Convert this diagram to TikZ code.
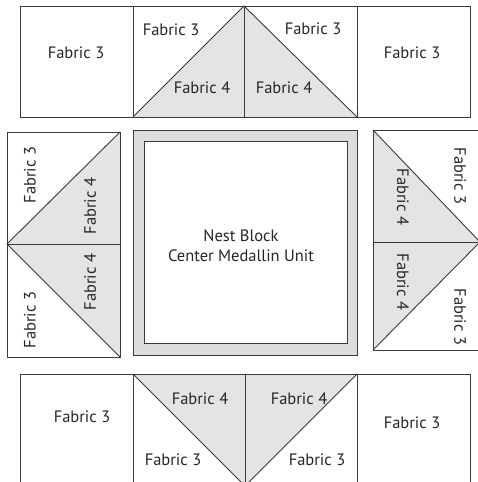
\documentclass[tikz,border=0pt]{standalone}
\usepackage{fontspec}
\setmainfont{PT Sans}
\definecolor{edge}{HTML}{3A3A3A}
\definecolor{fabfour}{HTML}{E4E4E5}
\definecolor{band}{HTML}{DCDDDE}
\tikzset{
  seam/.style={draw=edge, line width=0.9pt},
  lab/.style={font=\fontsize{16.5}{18}\selectfont, text=black!85, inner sep=0pt},
  labup/.style={lab, rotate=90},
  labdown/.style={lab, rotate=-90}
}
\begin{document}
\begin{tikzpicture}[x=1pt,y=-1pt]
\useasboundingbox (0,0) rectangle (478,482);
\begin{scope}
\clip (0,0) rectangle (478,482);
% ---------- top row ----------
\fill[fabfour] (133,117) -- (244,6) -- (357,117) -- cycle;
\draw[seam] (20,6) rectangle (470,117);
\draw[seam] (133,6) -- (133,117);
\draw[seam] (244,6) -- (244,117);
\draw[seam] (357,6) -- (357,117);
\draw[seam] (133,117) -- (244,6) -- (357,117);
% ---------- middle left ----------
\fill[fabfour] (120,132) -- (7,244) -- (120,357) -- cycle;
\draw[seam] (7,132) rectangle (120,357);
\draw[seam] (7,244) -- (120,244);
\draw[seam] (120,132) -- (7,244) -- (120,357);
% ---------- centre ----------
\draw[seam, fill=band] (133,130) rectangle (357,355);
\draw[seam, fill=white] (144,141) rectangle (347,343);
% ---------- middle right ----------
\fill[fabfour] (373,130) -- (480,242) -- (373,350) -- cycle;
\draw[seam] (484,130) -- (373,130) -- (373,350) -- (484,350);
\draw[seam] (373,242) -- (484,242);
\draw[seam] (373,130) -- (480,242) -- (373,350);
% ---------- bottom row ----------
\fill[fabfour] (133,374) -- (245,486) -- (357,374) -- cycle;
\draw[seam] (20,490) -- (20,374) -- (470,374) -- (470,490);
\draw[seam] (133,374) -- (133,490);
\draw[seam] (245,374) -- (245,490);
\draw[seam] (357,374) -- (357,490);
\draw[seam] (133,374) -- (245,486) -- (357,374);
\end{scope}
% ---------- labels ----------
\node[lab] (t1) at (76,53) {Fabric 3};
\node[lab] (t2) at (171,30) {Fabric 3};
\node[lab] (t3) at (202,88) {Fabric 4};
\node[lab] (t4) at (313,29) {Fabric 3};
\node[lab] (t5) at (284,88) {Fabric 4};
\node[lab] (t6) at (412,53) {Fabric 3};
\node[labup] (l1) at (30,175) {Fabric 3};
\node[labup] (l2) at (90,206) {Fabric 4};
\node[labup] (l3) at (90,282) {Fabric 4};
\node[labup] (l4) at (30,320) {Fabric 3};
\node[labdown] (r1) at (460,176) {Fabric 3};
\node[labdown] (r2) at (403,197) {Fabric 4};
\node[labdown] (r3) at (403,282) {Fabric 4};
\node[labdown] (r4) at (460,317) {Fabric 3};
\node[lab] (b1) at (82,417) {Fabric 3};
\node[lab] (b2) at (200,399) {Fabric 4};
\node[lab] (b3) at (173,460) {Fabric 3};
\node[lab] (b4) at (299,399) {Fabric 4};
\node[lab] (b5) at (317,460) {Fabric 3};
\node[lab] (b6) at (412,423) {Fabric 3};
\node[lab, align=center] (c) at (241,246) {Nest Block\\[2pt]Center Medallin Unit};
\end{tikzpicture}
\end{document}
